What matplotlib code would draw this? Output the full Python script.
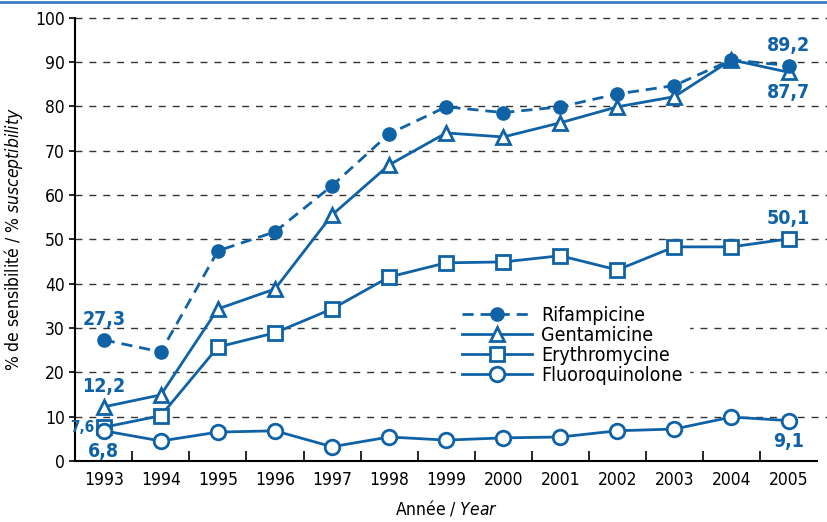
import matplotlib
matplotlib.use('Agg')
import matplotlib.pyplot as plt
from matplotlib.lines import Line2D

BLUE = '#0f62a5'

plt.rcParams['font.family'] = ['DejaVu Sans']
plt.rcParams['font.stretch'] = 'condensed'
plt.rcParams['mathtext.fontset'] = 'custom'
plt.rcParams['mathtext.rm'] = 'DejaVu Sans'
plt.rcParams['mathtext.it'] = 'DejaVu Sans:italic'

years = list(range(1993, 2006))
rifampicine = [27.3, 24.6, 47.4, 51.7, 62.1, 73.8, 79.9, 78.6, 79.9, 82.8, 84.7, 90.5, 89.2]
gentamicine = [12.2, 14.9, 34.3, 38.8, 55.5, 66.8, 74.0, 73.1, 76.3, 79.9, 82.2, 90.5, 87.7]
erythromycine = [7.6, 10.2, 25.7, 28.9, 34.3, 41.5, 44.7, 44.9, 46.3, 43.1, 48.3, 48.3, 50.1]
fluoroquinolone = [6.8, 4.5, 6.5, 6.8, 3.2, 5.4, 4.7, 5.2, 5.4, 6.8, 7.2, 9.9, 9.1]

# labelled values: (year, value, text, position)
annotations = [
    (1993, 27.3, '27,3', 'above'),
    (1993, 12.2, '12,2', 'above'),
    (1993, 7.6, '7,6', 'left'),
    (1993, 6.8, '6,8', 'below'),
    (2005, 89.2, '89,2', 'above'),
    (2005, 87.7, '87,7', 'below'),
    (2005, 50.1, '50,1', 'above'),
    (2005, 9.1, '9,1', 'below'),
]

fig = plt.figure(figsize=(8.27, 5.22), dpi=100)
ax = fig.add_axes([0.091, 0.117, 0.897, 0.849])

ax.plot(years, rifampicine, color=BLUE, lw=2, ls=(0, (4, 2.5)), marker='o', ms=9.5,
        mfc=BLUE, mec=BLUE, label='Rifampicine', zorder=5)
ax.plot(years, gentamicine, color=BLUE, lw=2, marker='^', ms=10.5, mfc='white',
        mec=BLUE, mew=2, label='Gentamicine', zorder=4)
ax.plot(years, erythromycine, color=BLUE, lw=2, marker='s', ms=9.5, mfc='white',
        mec=BLUE, mew=2, label='Erythromycine', zorder=4)
ax.plot(years, fluoroquinolone, color=BLUE, lw=2, marker='o', ms=10.5, mfc='white',
        mec=BLUE, mew=2, label='Fluoroquinolone', zorder=4)

for yr, val, txt, pos in annotations:
    if pos == 'above':
        ax.annotate(txt, (yr, val), xytext=(0, 8), textcoords='offset points',
                    ha='center', va='bottom', color=BLUE, fontsize=14, fontweight='bold')
    elif pos == 'below':
        ax.annotate(txt, (yr, val), xytext=(0, -8), textcoords='offset points',
                    ha='center', va='top', color=BLUE, fontsize=14, fontweight='bold')
    else:
        ax.annotate(txt, (yr, val), xytext=(-7, 0), textcoords='offset points',
                    ha='right', va='center', color=BLUE, fontsize=11, fontweight='bold')

ax.set_xlim(1992.5, 2005.5)
ax.set_ylim(0, 100)
ax.set_yticks(range(0, 101, 10))
ax.set_xticks(years)
ax.set_xticks([y + 0.5 for y in years[:-1]], minor=True)
ax.tick_params(axis='x', which='major', length=0, labelsize=12.5, pad=7)
ax.tick_params(axis='x', which='minor', length=7, width=1.2, direction='in')
ax.tick_params(axis='y', labelsize=12.5, length=4, width=1.2)

for v in range(10, 101, 10):
    ax.axhline(v, xmin=0, xmax=1.013, color='#333333', lw=1, ls=(0, (5, 5)),
               clip_on=False, zorder=1)

for s in ['top', 'right']:
    ax.spines[s].set_visible(False)
ax.spines['left'].set_linewidth(1.5)
ax.spines['bottom'].set_linewidth(1.5)

ax.set_xlabel(r'Année / $\mathit{Year}$', fontsize=12.5, labelpad=7)
ax.set_ylabel(r'% de sensibilité / $\mathit{\%\ susceptibility}$', fontsize=12.5, labelpad=7)

leg = ax.legend(loc='upper left', bbox_to_anchor=(0.5, 0.385), frameon=True,
                fontsize=14, handlelength=3.6, handletextpad=0.5, labelspacing=0.05,
                borderpad=0.3, facecolor='white', edgecolor='white', framealpha=1)
leg.set_zorder(3)

fig.add_artist(Line2D([0, 1], [0.996, 0.996], color='#3a7fc1', lw=2))

fig.savefig('out.png', dpi=100)
